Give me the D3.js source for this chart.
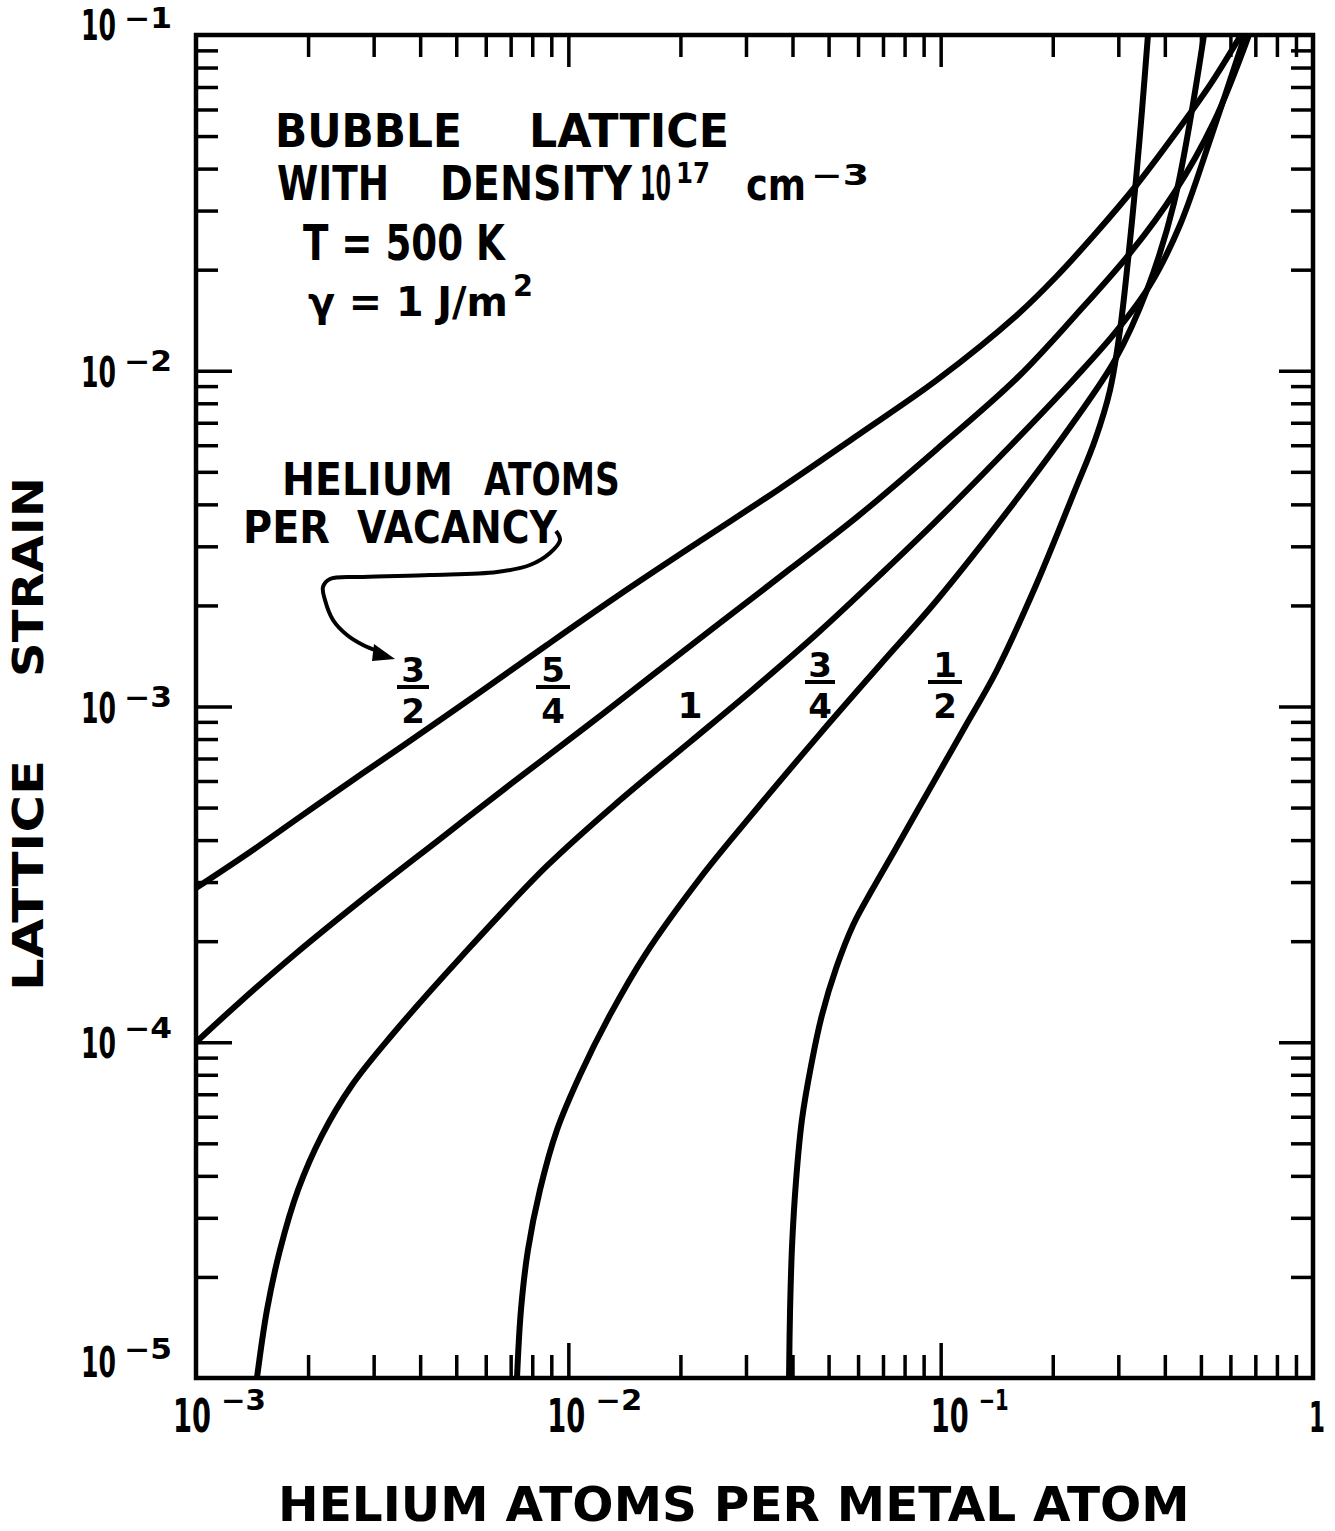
<!DOCTYPE html>
<html><head><meta charset="utf-8">
<script src="https://cdn.jsdelivr.net/npm/d3@7"></script>
<style>html,body{margin:0;padding:0;background:#fff}svg{display:block}</style>
</head><body>
<svg id="chart" width="1335" height="1531"></svg>
<script>
// ---------------- DATA ----------------
const xDomain = [1e-3, 1];
const yDomain = [1e-5, 1e-1];
const xDecades = [1e-3, 1e-2, 1e-1];
const yDecades = [1e-5, 1e-4, 1e-3, 1e-2];
const minorMultipliers = [2, 3, 4, 5, 6, 7, 8, 9];
const xMajorInner = [1e-2, 1e-1];
const yMajorInner = [1e-4, 1e-3, 1e-2];
const xTickLabels = [
  {v: 1e-3, base: "10", exp: "−3"},
  {v: 1e-2, base: "10", exp: "−2"},
  {v: 1e-1, base: "10", exp: "−1"},
  {v: 1,    base: "1",  exp: ""}
];
const yTickLabels = [
  {v: 1e-1, base: "10", exp: "−1"},
  {v: 1e-2, base: "10", exp: "−2"},
  {v: 1e-3, base: "10", exp: "−3"},
  {v: 1e-4, base: "10", exp: "−4"},
  {v: 1e-5, base: "10", exp: "−5"}
];
const seriesNames = ["3/2", "5/4", "1", "3/4", "1/2"];

// helium atoms per metal atom (x), lattice strain (y)
const curve3_2 = [
  [1.0e-3, 2.88e-4], [1.397e-3, 3.687e-4], [1.902e-3, 4.69e-4], [2.593e-3, 5.96e-4],
  [3.62e-3, 7.68e-4], [5.65e-3, 1.082e-3], [8.76e-3, 1.525e-3], [1.368e-2, 2.148e-3],
  [2.258e-2, 3.11e-3], [3.68e-2, 4.44e-3], [6.00e-2, 6.44e-3], [9.78e-2, 9.39e-3],
  [0.1594, 1.456e-2], [0.2040, 1.902e-2], [0.2598, 2.554e-2], [0.3325, 3.526e-2],
  [0.4260, 5.07e-2], [0.5290, 7.10e-2], [0.6405, 0.1]
];
const curve5_4 = [
  [1.0e-3, 1.0e-4], [1.313e-3, 1.318e-4], [1.834e-3, 1.819e-4], [2.914e-3, 2.76e-4],
  [4.52e-3, 4.03e-4], [7.01e-3, 5.88e-4], [1.095e-2, 8.57e-4], [1.699e-2, 1.250e-3],
  [2.555e-2, 1.773e-3], [3.94e-2, 2.568e-3], [6.00e-2, 3.69e-3], [9.78e-2, 5.85e-3],
  [0.1594, 9.45e-3], [0.2295, 1.456e-2], [0.3245, 2.258e-2], [0.4233, 3.38e-2],
  [0.542, 5.51e-2], [0.673, 0.1]
];
const curve1 = [
  [1.458e-3, 1.0e-5], [1.551e-3, 1.594e-5], [1.681e-3, 2.405e-5], [1.879e-3, 3.63e-5],
  [2.180e-3, 5.29e-5], [2.625e-3, 7.46e-5], [3.36e-3, 1.051e-4], [5.15e-3, 1.794e-4],
  [8.76e-3, 3.35e-4], [1.368e-2, 5.23e-4], [2.122e-2, 7.84e-4], [3.075e-2, 1.105e-3],
  [4.71e-2, 1.667e-3], [6.87e-2, 2.464e-3], [9.78e-2, 3.59e-3], [0.1594, 6.22e-3],
  [0.2295, 9.52e-3], [0.2938, 1.296e-2], [0.3650, 1.800e-2], [0.4393, 2.717e-2],
  [0.529, 4.87e-2], [0.657, 0.1]
];
const curve3_4 = [
  [7.28e-3, 1.0e-5], [7.46e-3, 1.594e-5], [7.79e-3, 2.405e-5], [8.39e-3, 3.63e-5],
  [9.32e-3, 5.48e-5], [1.075e-2, 7.99e-5], [1.294e-2, 1.206e-4], [1.606e-2, 1.819e-4],
  [2.258e-2, 3.08e-4], [3.075e-2, 4.69e-4], [4.71e-2, 8.22e-4], [6.87e-2, 1.329e-3],
  [9.78e-2, 2.076e-3], [0.1594, 4.12e-3], [0.2295, 7.13e-3], [0.2938, 1.076e-2],
  [0.3582, 1.74e-2], [0.4233, 3.16e-2], [0.5096, 0.1]
];
const curve1_2 = [
  [3.915e-2, 1.0e-5], [3.94e-2, 1.594e-5], [3.99e-2, 2.49e-5], [4.09e-2, 3.89e-5],
  [4.24e-2, 5.87e-5], [4.49e-2, 8.55e-5], [4.80e-2, 1.206e-4], [5.24e-2, 1.664e-4],
  [5.82e-2, 2.236e-4], [6.54e-2, 2.84e-4], [7.54e-2, 3.74e-4], [9.78e-2, 6.21e-4],
  [0.1170, 8.81e-4], [0.1408, 1.267e-3], [0.1804, 2.30e-3], [0.2295, 4.41e-3],
  [0.2598, 6.22e-3], [0.285, 8.76e-3], [0.3032, 1.322e-2], [0.3186, 2.138e-2],
  [0.3346, 3.70e-2], [0.3474, 5.98e-2], [0.3604, 0.1]
];
const seriesData = [curve3_2, curve5_4, curve1, curve3_4, curve1_2];

// ---------------- LAYOUT ----------------
const L = 196, R = 1313, T = 35, B = 1378;
const FONT = "'DejaVu Sans', 'Liberation Sans', sans-serif";
const INK = "#000";

const svg = d3.select("#chart");
svg.append("rect").attr("width", 1335).attr("height", 1531).attr("fill", "#fff");

const x = d3.scaleLog().domain(xDomain).range([L, R]);
const y = d3.scaleLog().domain(yDomain).range([B, T]);

const minorX = [];
xDecades.forEach(d => minorMultipliers.forEach(m => minorX.push(d * m)));
const minorY = [];
yDecades.forEach(d => minorMultipliers.forEach(m => minorY.push(d * m)));

function ticks(axisFn, scale, vals, len, tr) {
  const g = svg.append("g").attr("transform", tr)
    .call(axisFn(scale).tickValues(vals).tickSize(len).tickFormat(""));
  g.select(".domain").remove();
  g.selectAll("text").remove();
  g.selectAll("line").attr("stroke", INK).attr("stroke-width", 3.5);
}
ticks(d3.axisLeft, y, minorY, -22, `translate(${L},0)`);
ticks(d3.axisLeft, y, yMajorInner, -36, `translate(${L},0)`);
ticks(d3.axisRight, y, minorY, -22, `translate(${R},0)`);
ticks(d3.axisRight, y, yMajorInner, -34, `translate(${R},0)`);
ticks(d3.axisBottom, x, minorX, -23, `translate(0,${B})`);
ticks(d3.axisBottom, x, xMajorInner, -35, `translate(0,${B})`);
ticks(d3.axisTop, x, minorX, -22, `translate(0,${T})`);
ticks(d3.axisTop, x, xMajorInner, -32, `translate(0,${T})`);

// frame
svg.append("rect").attr("x", L).attr("y", T).attr("width", R - L).attr("height", B - T)
  .attr("fill", "none").attr("stroke", INK).attr("stroke-width", 4.5);

// curves
svg.append("clipPath").attr("id", "plotclip").append("rect")
  .attr("x", L).attr("y", T).attr("width", R - L).attr("height", B - T);
const line = d3.line().x(d => x(d[0])).y(d => y(d[1])).curve(d3.curveCatmullRom.alpha(0.5));
svg.append("g").attr("clip-path", "url(#plotclip)")
  .selectAll("path").data(seriesData).join("path")
  .attr("d", line).attr("fill", "none").attr("stroke", INK)
  .attr("stroke-width", 6).attr("stroke-linejoin", "round");

// text helper: scales glyphs horizontally to a target width (real text kept)
function txt(str, px, py, size, width, opts = {}) {
  const t = svg.append("text")
    .attr("font-family", FONT).attr("font-weight", opts.weight || "bold")
    .attr("font-size", size).attr("fill", INK).text(str);
  if (opts.anchor) t.attr("text-anchor", opts.anchor);
  let sx = 1;
  if (width) {
    const w = t.node().getComputedTextLength();
    if (w > 0) sx = width / w;
  }
  const rot = opts.rotate ? ` rotate(${opts.rotate})` : "";
  t.attr("transform", `translate(${px},${py})${rot} scale(${sx.toFixed(4)},1)`);
  return t;
}

// y tick labels
const yBaseDy = [5, 16, 16, 16, -1];
const yExpDy = [-7, 0, 0, -4, -19];
yTickLabels.forEach((d, i) => {
  const ty = y(d.v);
  txt(d.base, 81, ty + yBaseDy[i], 42, 35);
  txt(d.exp, 124, ty + yExpDy[i], 28, 48);
});

// x tick labels
const xBaseDx = [-23, -21, -10];
const xExpW = [45, 47, 30];
xTickLabels.forEach((d, i) => {
  const tx = x(d.v);
  if (d.exp) {
    txt(d.base, tx + xBaseDx[i], 1432, 46, 38);
    txt(d.exp, tx + xBaseDx[i] + 48, 1410, 28, xExpW[i]);
  } else {
    txt(d.base, tx + 4, 1432, 42, 16, {anchor: "middle"});
  }
});

// axis titles
txt("HELIUM ATOMS PER METAL ATOM", 278, 1521, 48, 912);
txt("LATTICE", 43, 991, 42, 231, {rotate: -90});
txt("STRAIN", 43, 677, 42, 200, {rotate: -90});

// annotation block
txt("BUBBLE", 275, 147, 46, 187);
txt("LATTICE", 529, 147, 46, 200);
txt("WITH", 277, 200, 48, 112);
txt("DENSITY", 440, 200, 48, 192);
txt("10", 640, 200, 48, 31);
txt("17", 676, 183, 28, 34);
txt("cm", 746, 200, 44, 60);
txt("−3", 811, 185, 28, 58);
txt("T = 500 K", 303, 260, 50, 202);
txt("γ = 1 J/m", 308, 316, 40, 200);
txt("2", 513, 296, 30, 20);

txt("HELIUM", 282, 495, 44, 171);
txt("ATOMS", 484, 495, 44, 136);
txt("PER", 243, 543, 44, 87);
txt("VACANCY", 357, 543, 44, 200);

// arrow annotation (pixel layout)
const arrowPts = [[556,531],[560,540],[550,553],[530,565],[497,572],[430,575],[363,577],[330,579],
  [323,587],[325,600],[333,620],[347,635],[363,645],[380,652]];
svg.append("path").attr("d", d3.line().curve(d3.curveCatmullRom)(arrowPts))
  .attr("fill", "none").attr("stroke", INK).attr("stroke-width", 4);
svg.append("path").attr("d", "M395,659 L374,644 L372,661 Z").attr("fill", INK);

// series labels (stacked fractions)
const fracLayout = [
  {cx: 413, numY: 682, barY: 687, denY: 723, bw: 32, size: 34},
  {cx: 553, numY: 682, barY: 687, denY: 723, bw: 34, size: 34},
  {cx: 690, numY: 718, size: 36},
  {cx: 820, numY: 677, barY: 682, denY: 718, bw: 30, size: 34},
  {cx: 945, numY: 677, barY: 682, denY: 718, bw: 34, size: 34}
];
seriesNames.forEach((name, i) => {
  const f = fracLayout[i];
  const parts = name.split("/");
  txt(parts[0], f.cx, f.numY, f.size, null, {anchor: "middle"});
  if (parts[1]) {
    txt(parts[1], f.cx, f.denY, f.size, null, {anchor: "middle"});
    svg.append("line").attr("x1", f.cx - f.bw / 2).attr("x2", f.cx + f.bw / 2)
      .attr("y1", f.barY).attr("y2", f.barY).attr("stroke", INK).attr("stroke-width", 4);
  }
});
</script>
</body></html>
